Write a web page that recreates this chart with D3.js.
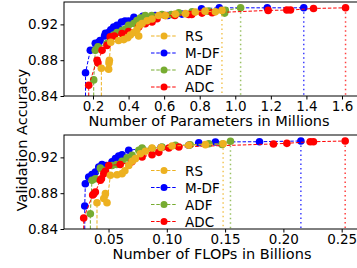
<!DOCTYPE html>
<html>
<head>
<meta charset="utf-8">
<script src="https://cdn.jsdelivr.net/npm/d3@7"></script>
<style>
  body { margin: 0; background: #fff; }
  text { font-family: "DejaVu Sans", sans-serif; fill: #000; }
</style>
</head>
<body>
<div id="container"></div>
<script>
/* CONSTANTS AND GLOBALS */
const width = 357;
const height = 268;

const seriesNames = ["RS", "M-DF", "ADF", "ADC"];
const colors = { "RS": "#edb120", "M-DF": "#0000ff", "ADF": "#77ac30", "ADC": "#ff0000" };
const drawOrder = ["M-DF", "ADF", "ADC", "RS"];

const yTicks = [0.84, 0.88, 0.92];
const paramTicks = [0.2, 0.4, 0.6, 0.8, 1.0, 1.2, 1.4, 1.6];
const flopTicks = [0.05, 0.10, 0.15, 0.20, 0.25];

/* DATA: [x, accuracy] */
// parameters in millions
const paramRS = [[0.247, 0.871], [0.288, 0.870], [0.290, 0.877], [0.292, 0.880], [0.300, 0.900],
  [0.344, 0.902], [0.373, 0.903], [0.395, 0.905], [0.41, 0.908], [0.43, 0.911], [0.447, 0.914],
  [0.457, 0.907], [0.462, 0.919], [0.476, 0.921], [0.504, 0.924], [0.532, 0.926], [0.569, 0.930],
  [0.607, 0.930], [0.663, 0.9315], [0.72, 0.932], [0.775, 0.9337], [0.83, 0.9348],
  [0.888, 0.934], [0.925, 0.9356]];
const paramMDF = [[0.158, 0.866], [0.185, 0.891], [0.213, 0.899], [0.232, 0.900], [0.24, 0.902],
  [0.265, 0.907], [0.27, 0.910], [0.288, 0.911], [0.30, 0.914], [0.316, 0.917], [0.335, 0.919],
  [0.345, 0.915], [0.36, 0.9226], [0.38, 0.9237], [0.40, 0.9237], [0.43, 0.928], [0.48, 0.929],
  [0.55, 0.930], [0.62, 0.930], [0.70, 0.9315], [0.76, 0.9326], [0.81, 0.9374], [0.91, 0.9385],
  [1.18, 0.9385], [1.385, 0.9385]];
const paramADF = [[0.204, 0.858], [0.213, 0.891], [0.228, 0.895], [0.279, 0.8985], [0.297, 0.902],
  [0.316, 0.908], [0.335, 0.911], [0.363, 0.913], [0.382, 0.9148], [0.40, 0.919], [0.429, 0.921],
  [0.447, 0.9244], [0.466, 0.927], [0.494, 0.930], [0.53, 0.930], [0.588, 0.931], [0.64, 0.931],
  [0.682, 0.933], [0.757, 0.934], [0.85, 0.9348], [0.94, 0.9326], [0.944, 0.9356], [1.03, 0.9385]];
const paramADC = [[0.176, 0.852], [0.223, 0.880], [0.228, 0.877], [0.251, 0.891], [0.279, 0.8965],
  [0.297, 0.906], [0.32, 0.907], [0.363, 0.9097], [0.40, 0.912], [0.457, 0.917], [0.494, 0.9207],
  [0.532, 0.9226], [0.56, 0.9263], [0.607, 0.930], [0.66, 0.930], [0.738, 0.931], [0.755, 0.931],
  [0.813, 0.9326], [0.87, 0.933], [1.185, 0.9356], [1.29, 0.936], [1.31, 0.936], [1.44, 0.9378],
  [1.62, 0.9385]];

// FLOPs in billions
const flopRS = [[0.0401, 0.8694], [0.0459, 0.874], [0.0473, 0.8795], [0.0487, 0.8694],
  [0.0516, 0.900], [0.0573, 0.9006], [0.0616, 0.9018], [0.0640, 0.905], [0.0673, 0.911],
  [0.0702, 0.9157], [0.073, 0.9186], [0.0773, 0.924], [0.0816, 0.9268], [0.0873, 0.9305],
  [0.095, 0.931], [0.1045, 0.9327], [0.1188, 0.9335], [0.1331, 0.9342], [0.1483, 0.9353]];
const flopMDF = [[0.0296, 0.8657], [0.0301, 0.8906], [0.033, 0.898], [0.0358, 0.9007],
  [0.0387, 0.9037], [0.0416, 0.9093], [0.0444, 0.912], [0.048, 0.911], [0.053, 0.915],
  [0.0559, 0.9186], [0.0587, 0.9216], [0.0616, 0.923], [0.0673, 0.928], [0.0788, 0.9297],
  [0.095, 0.931], [0.1189, 0.9335], [0.1274, 0.9364], [0.1417, 0.9372], [0.1795, 0.9375],
  [0.215, 0.9383]];
const flopADF = [[0.0344, 0.857], [0.0358, 0.8944], [0.0387, 0.8962], [0.043, 0.908],
  [0.0473, 0.9056], [0.053, 0.911], [0.057, 0.912], [0.0616, 0.9157], [0.0659, 0.9194],
  [0.0702, 0.9223], [0.076, 0.928], [0.0788, 0.9305], [0.0873, 0.930], [0.0959, 0.9316],
  [0.1074, 0.9335], [0.120, 0.934], [0.136, 0.9353], [0.1474, 0.9345], [0.1546, 0.938]];
const flopADC = [[0.0287, 0.8523], [0.0364, 0.878], [0.0373, 0.879], [0.0387, 0.8813],
  [0.043, 0.8944], [0.0439, 0.8962], [0.0459, 0.9018], [0.0473, 0.9044], [0.0502, 0.911],
  [0.060, 0.912], [0.070, 0.915], [0.0788, 0.9205], [0.0873, 0.923], [0.0931, 0.9256],
  [0.1017, 0.9305], [0.1103, 0.9316], [0.1915, 0.935], [0.203, 0.9357], [0.223, 0.9375],
  [0.2258, 0.9375], [0.253, 0.9383]];

const panels = [
  { series: { "RS": paramRS, "M-DF": paramMDF, "ADF": paramADF, "ADC": paramADC },
    xDomain: [0.037, 1.69], ticks: paramTicks, fmt: d3.format(".1f"),
    top: 2, bottom: 96, label: "Number of Parameters in Millions", labelY: 126 },
  { series: { "RS": flopRS, "M-DF": flopMDF, "ADF": flopADF, "ADC": flopADC },
    xDomain: [0.0118, 0.264], ticks: flopTicks, fmt: d3.format(".2f"),
    top: 135, bottom: 229, label: "Number of FLOPs in Billions", labelY: 259 }
];

const left = 64;
const right = 358;

const svg = d3.select("#container")
  .append("svg")
  .attr("width", width)
  .attr("height", height);

panels.forEach((p, i) => {
  const xScale = d3.scaleLinear().domain(p.xDomain).range([left, right]);
  const yScale = d3.scaleLinear().domain([0.84, 0.945]).range([p.bottom, p.top]);

  const clipId = "clip" + i;
  svg.append("clipPath").attr("id", clipId)
    .append("rect")
    .attr("x", left).attr("y", p.top)
    .attr("width", right - left).attr("height", p.bottom - p.top);

  const g = svg.append("g");
  const plot = g.append("g").attr("clip-path", `url(#${clipId})`);

  const line = d3.line().x(d => xScale(d[0])).y(d => yScale(d[1]));

  drawOrder.forEach(name => {
    const data = p.series[name];
    const first = data[0];
    const last = data[data.length - 1];
    // dashed line, starting from the bottom of the axis
    plot.append("path")
      .datum([[first[0], 0.84], ...data])
      .attr("d", line)
      .attr("fill", "none")
      .attr("stroke", colors[name])
      .attr("stroke-width", 1)
      .attr("stroke-dasharray", "3.5,1.8");
    // dotted drop line at the largest model
    plot.append("path")
      .datum([last, [last[0], 0.84]])
      .attr("d", line)
      .attr("fill", "none")
      .attr("stroke", colors[name])
      .attr("stroke-width", 1.5)
      .attr("stroke-opacity", 0.75)
      .attr("stroke-dasharray", "1.5,3");
    plot.selectAll(null)
      .data(data)
      .join("circle")
      .attr("cx", d => xScale(d[0]))
      .attr("cy", d => yScale(d[1]))
      .attr("r", 3.8)
      .attr("fill", colors[name]);
  });

  // legend
  const legendX = 151;
  const legendY0 = i === 0 ? 36 : 170.5;
  const legend = g.append("g");
  legend.append("rect")
    .attr("x", legendX - 4).attr("y", legendY0 - 9)
    .attr("width", 68).attr("height", 69)
    .attr("fill", "#fff").attr("fill-opacity", 0.8);
  seriesNames.forEach((name, k) => {
    const ly = legendY0 + k * 17;
    legend.append("line")
      .attr("x1", legendX).attr("x2", legendX + 26)
      .attr("y1", ly).attr("y2", ly)
      .attr("stroke", colors[name])
      .attr("stroke-width", 1)
      .attr("stroke-dasharray", "3.5,1.8");
    legend.append("circle")
      .attr("cx", legendX + 13).attr("cy", ly).attr("r", 3.5)
      .attr("fill", colors[name]);
    legend.append("text")
      .attr("x", legendX + 34).attr("y", ly + 5)
      .attr("font-size", 13.5)
      .text(name);
  });

  // axes
  const xAxis = d3.axisBottom(xScale).tickValues(p.ticks).tickFormat(p.fmt)
    .tickSize(3.5).tickPadding(2);
  g.append("g")
    .attr("transform", `translate(0, ${p.bottom})`)
    .call(xAxis)
    .call(a => a.select(".domain").remove())
    .selectAll("text").attr("font-size", 13.5).attr("font-family", "DejaVu Sans");

  const yAxis = d3.axisLeft(yScale).tickValues(yTicks).tickFormat(d3.format(".2f"))
    .tickSize(3.5).tickPadding(2.5);
  g.append("g")
    .attr("transform", `translate(${left}, 0)`)
    .call(yAxis)
    .call(a => a.select(".domain").remove())
    .selectAll("text").attr("font-size", 13.5).attr("font-family", "DejaVu Sans");

  // spines
  g.append("rect")
    .attr("x", left).attr("y", p.top)
    .attr("width", right - left).attr("height", p.bottom - p.top)
    .attr("fill", "none").attr("stroke", "#000").attr("stroke-width", 1);

  g.append("text")
    .attr("x", i === 0 ? 209 : 212)
    .attr("y", p.labelY)
    .attr("text-anchor", "middle")
    .attr("font-size", 14.5)
    .text(p.label);
});

svg.append("text")
  .attr("transform", "translate(27, 140) rotate(-90)")
  .attr("text-anchor", "middle")
  .attr("font-size", 14.5)
  .text("Validation Accuracy");
</script>
</body>
</html>
